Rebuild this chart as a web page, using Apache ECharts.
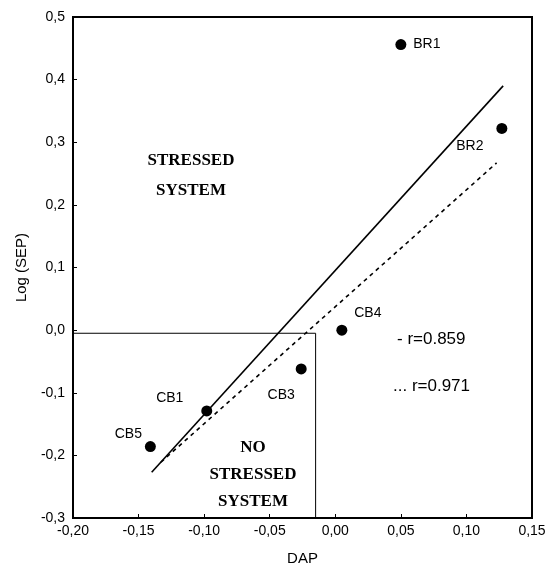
<!DOCTYPE html>
<html>
<head>
<meta charset="utf-8">
<script src="https://cdn.jsdelivr.net/npm/echarts@6/dist/echarts.min.js"></script>
<style>
  html, body { margin: 0; padding: 0; background: #fff; }
  #main { width: 549px; height: 571px; }
</style>
</head>
<body>
<div id="main"></div>
<script>
// Datos
const pointNames = ["BR1", "BR2", "CB4", "CB3", "CB1", "CB5"];
const dapValues = [0.05, 0.127, 0.005, -0.026, -0.098, -0.141];
const logSepValues = [0.456, 0.322, 0.0, -0.062, -0.129, -0.186];

// Rectas de regresion (extremos)
const solidLine = [[-0.140, -0.227], [0.128, 0.390]];
const dashedLine = [[-0.133, -0.211], [0.123, 0.267]];

// Recuadro "no stressed"
const boxLine = [[-0.2, -0.005], [-0.015, -0.005], [-0.015, -0.3]];

const xTicks = { min: -0.2, max: 0.15, step: 0.05 };
const yTicks = { min: -0.3, max: 0.5, step: 0.1 };

// Desplazamiento de cada etiqueta respecto de su punto (px)
const labelOffsets = {
  BR1: [26, 0],
  BR2: [-32, 18],
  CB4: [26, -17],
  CB3: [-20, 26],
  CB1: [-37, -13],
  CB5: [-22, -12],
};

const initEChart = () => {
  const chartDom = document.getElementById("main");
  const myChart = echarts.init(chartDom);

  const sans = "Liberation Sans, Arial, sans-serif";
  const serif = "Liberation Serif, Times New Roman, serif";

  const option = {
    animation: false,
    grid: {
      left: 73,
      right: 17,
      top: 17,
      bottom: 50,
      show: true,
      borderColor: "#000",
      borderWidth: 2,
    },
    xAxis: {
      type: "value",
      min: xTicks.min,
      max: xTicks.max,
      interval: xTicks.step,
      name: "DAP",
      nameLocation: "middle",
      nameGap: 33,
      nameTextStyle: { color: "#000", fontSize: 15, fontFamily: sans },
      splitLine: { show: false },
      axisLine: { onZero: false, lineStyle: { color: "#000", width: 2 } },
      axisTick: { inside: true, length: 4, lineStyle: { color: "#000" } },
      axisLabel: {
        color: "#000",
        fontSize: 14,
        fontFamily: sans,
        margin: 6,
        formatter: (v) => v.toFixed(2).replace(".", ","),
      },
    },
    yAxis: {
      type: "value",
      min: yTicks.min,
      max: yTicks.max,
      interval: yTicks.step,
      name: "Log (SEP)",
      nameLocation: "middle",
      nameGap: 44,
      nameTextStyle: { color: "#000", fontSize: 15, fontFamily: sans },
      splitLine: { show: false },
      axisLine: { onZero: false, lineStyle: { color: "#000", width: 2 } },
      axisTick: { inside: true, length: 4, lineStyle: { color: "#000" } },
      axisLabel: {
        color: "#000",
        fontSize: 14,
        fontFamily: sans,
        margin: 8,
        formatter: (v) => v.toFixed(1).replace(".", ","),
      },
    },
    series: [
      {
        name: "box",
        type: "line",
        data: boxLine,
        symbol: "none",
        lineStyle: { color: "#000", width: 1 },
        z: 1,
      },
      {
        name: "r=0.859",
        type: "line",
        data: solidLine,
        symbol: "none",
        lineStyle: { color: "#000", width: 1.6 },
        z: 2,
      },
      {
        name: "r=0.971",
        type: "line",
        data: dashedLine,
        symbol: "none",
        lineStyle: { color: "#000", width: 1.6, type: [4, 4] },
        z: 2,
      },
      {
        name: "puntos",
        type: "scatter",
        symbolSize: 11,
        itemStyle: { color: "#000", opacity: 1 },
        z: 3,
        data: pointNames.map((n, i) => ({
          name: n,
          value: [dapValues[i], logSepValues[i]],
          label: {
            show: true,
            position: "inside",
            offset: labelOffsets[n],
            formatter: "{b}",
            color: "#000",
            opacity: 1,
            fontSize: 14,
            fontFamily: sans,
          },
        })),
      },
    ],
    graphic: [
      {
        type: "text",
        x: 191,
        y: 146,
        style: {
          text: "STRESSED\nSYSTEM",
          align: "center",
          verticalAlign: "top",
          lineHeight: 30,
          font: "bold 17px " + serif,
          fill: "#000",
        },
      },
      {
        type: "text",
        x: 253,
        y: 434,
        style: {
          text: "NO\nSTRESSED\nSYSTEM",
          align: "center",
          verticalAlign: "top",
          lineHeight: 27,
          font: "bold 17px " + serif,
          fill: "#000",
        },
      },
      {
        type: "text",
        x: 397,
        y: 339,
        style: {
          text: "- r=0.859",
          verticalAlign: "middle",
          font: "17px " + sans,
          fill: "#000",
        },
      },
      {
        type: "text",
        x: 393,
        y: 386,
        style: {
          text: "... r=0.971",
          verticalAlign: "middle",
          font: "17px " + sans,
          fill: "#000",
        },
      },
    ],
  };

  myChart.setOption(option);
  return myChart;
};

let chartInstance = initEChart();
</script>
</body>
</html>
